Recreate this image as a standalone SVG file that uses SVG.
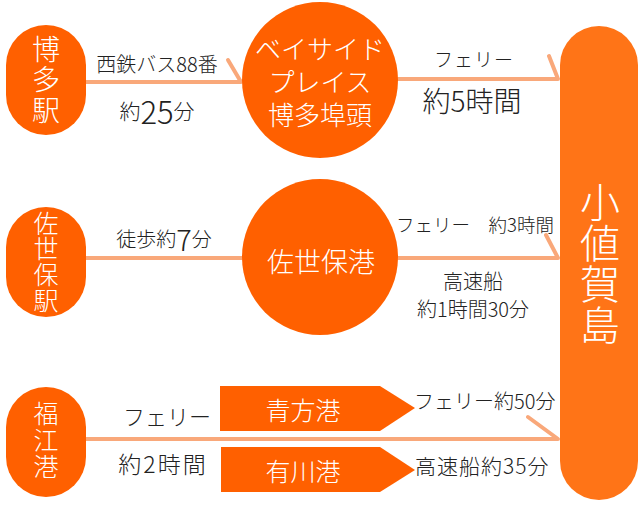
<svg xmlns="http://www.w3.org/2000/svg" width="640" height="526" viewBox="0 0 640 526">
<style>
text{font-family:"Noto Sans CJK JP","Noto Sans",sans-serif;font-weight:300;}
.w{fill:#ffffff;text-anchor:middle;dominant-baseline:central;}
.v{fill:#ffffff;text-anchor:middle;writing-mode:vertical-rl;}
.k{fill:#222222;dominant-baseline:central;}
.m{text-anchor:middle;}
.n{fill:#ff6000;}
.ln{stroke:#f9a87a;stroke-width:4;fill:none;stroke-linecap:round;stroke-linejoin:round;}
</style>
<rect width="640" height="526" fill="#ffffff"/>
<g id="connectors">
<polyline class="ln" points="86,82 241,82 228,60"/>
<polyline class="ln" points="397,79 558,79 549,56"/>
<line class="ln" x1="86" y1="258" x2="242" y2="258"/>
<polyline class="ln" points="397,258 558,258 546,235"/>
<polyline class="ln" points="86,439 558,439 528,417"/>
</g>
<g id="hakata-station">
<rect class="n" x="6" y="25" width="80" height="110" rx="40"/>
<text class="v" x="46" y="81" font-size="28" letter-spacing="2.5">博多駅</text>
</g>
<g id="bayside">
<circle class="n" cx="320" cy="80" r="78"/>
<text class="w" font-size="26"><tspan x="320" y="47">ベイサイド</tspan><tspan x="320" y="80">プレイス</tspan><tspan x="320" y="113">博多埠頭</tspan></text>
</g>
<g id="ojika">
<rect x="560" y="26" width="78" height="474" rx="39" fill="#ff7417"/>
<text class="v" x="600" y="264" font-size="40" letter-spacing="1.3">小値賀島</text>
</g>
<g id="sasebo-station">
<rect class="n" x="6" y="207" width="80" height="110" rx="40"/>
<text class="v" x="46" y="262" font-size="25" letter-spacing="0.7">佐世保駅</text>
</g>
<g id="sasebo-port">
<circle class="n" cx="320" cy="257" r="78"/>
<text class="w" x="321" y="260" font-size="27">佐世保港</text>
</g>
<g id="fukue-port">
<rect class="n" x="6" y="387" width="80" height="110" rx="40"/>
<text class="v" x="46" y="441" font-size="25" letter-spacing="1.5">福江港</text>
</g>
<g id="aokata-port">
<polygon class="n" points="220,386 380,386 415,408 380,431 220,431"/>
<text class="w" x="303" y="409" font-size="25">青方港</text>
</g>
<g id="arikawa-port">
<polygon class="n" points="221,447 380,447 415,470 380,492 221,492"/>
<text class="w" x="303" y="470" font-size="25">有川港</text>
</g>
<g id="labels">
<text class="k m" x="157" y="63" font-size="20">西鉄バス88番</text>
<text class="k m" x="157" y="110"><tspan font-size="21">約</tspan><tspan font-size="31">25</tspan><tspan font-size="21">分</tspan></text>
<text class="k m" x="474" y="58" font-size="19" letter-spacing="1">フェリー</text>
<text class="k m" x="472" y="100" font-size="28">約5時間</text>
<text class="k m" x="164" y="238"><tspan font-size="20">徒歩約</tspan><tspan font-size="29">7</tspan><tspan font-size="20">分</tspan></text>
<text class="k" x="396" y="224" font-size="18.5">フェリー　約3時間</text>
<text class="k m" x="473" y="280" font-size="20">高速船</text>
<text class="k m" x="473" y="308" font-size="20">約1時間30分</text>
<text class="k m" x="167" y="415" font-size="22">フェリー</text>
<text class="k m" x="163" y="463" font-size="23" letter-spacing="2">約2時間</text>
<text class="k" x="414" y="400" font-size="20">フェリー約50分</text>
<text class="k" x="415" y="465" font-size="21" letter-spacing="1">高速船約35分</text>
</g>
</svg>
